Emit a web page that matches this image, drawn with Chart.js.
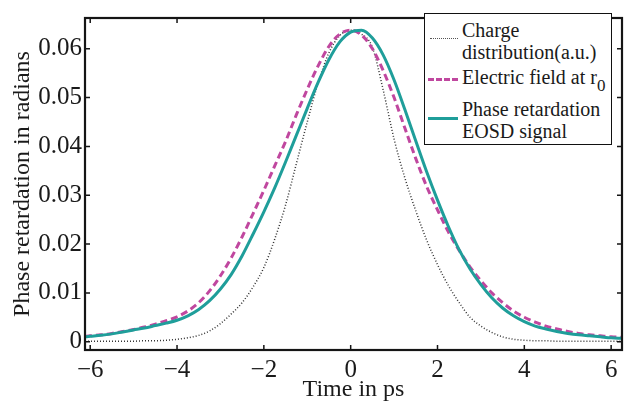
<!DOCTYPE html>
<html><head><meta charset="utf-8">
<script src="https://cdn.jsdelivr.net/npm/chart.js@4.4.0/dist/chart.umd.min.js"></script>
<style>
html,body{margin:0;padding:0;background:#fff;}
#wrap{position:relative;width:627px;height:401px;}
#legend{position:absolute;left:424px;top:13px;width:188px;height:132px;border:1px solid #111;background:#fff;font-family:"Liberation Serif","Times New Roman",serif;font-size:20px;color:#1a1a1a;box-sizing:border-box;}
.item{position:absolute;left:37px;line-height:22px;white-space:nowrap;}
.sample{position:absolute;height:0;}
sub{font-size:17px;vertical-align:-7px;line-height:0;}
</style></head>
<body><div id="wrap"><canvas id="c" width="627" height="401"></canvas>
<div id="legend">
 <div class="sample" style="left:5px;width:28px;top:24px;border-top:1.5px dotted #555;"></div>
 <div class="item" style="top:5px;">Charge<br>distribution(a.u.)</div>
 <div class="sample" style="left:3px;width:30px;top:64px;border-top:3px dashed #c0479f;"></div>
 <div class="item" style="top:52px;">Electric field at r<sub>0</sub></div>
 <div class="sample" style="left:3px;width:30px;top:103px;border-top:3px solid #1f9e9a;"></div>
 <div class="item" style="top:84px;">Phase retardation<br>EOSD signal</div>
</div></div>
<script>
const times = [-6.12,-6,-5.75,-5.5,-5.25,-5,-4.75,-4.5,-4.25,-4,-3.75,-3.5,-3.25,-3,-2.75,-2.5,-2.25,-2,-1.75,-1.5,-1.25,-1,-0.75,-0.5,-0.25,0,0.25,0.5,0.75,1,1.25,1.5,1.75,2,2.25,2.5,2.75,3,3.25,3.5,3.75,4,4.25,4.5,4.75,5,5.25,5.5,5.75,6,6.25];
const chargeDist = [0.0001,0.0001,0.0001,0.0001,0.0001,0.0001,0.0002,0.0002,0.0003,0.0005,0.0008,0.0013,0.0022,0.0037,0.0057,0.0080,0.0112,0.0152,0.0210,0.0280,0.0365,0.0450,0.0530,0.0592,0.0627,0.0638,0.0630,0.0603,0.0515,0.0415,0.0335,0.0268,0.0208,0.0158,0.0115,0.0080,0.0050,0.0032,0.0019,0.0010,0.0005,0.0003,0.0002,0.0002,0.0001,0.0001,0.0001,0.0001,0.0001,0.0001,0.0001];
const electricField = [0.0011,0.0012,0.0014,0.0017,0.0021,0.0025,0.0030,0.0036,0.0043,0.0051,0.0063,0.0080,0.0104,0.0135,0.0172,0.0215,0.0262,0.0310,0.0360,0.0410,0.0465,0.0517,0.0565,0.0605,0.0630,0.0638,0.0628,0.0600,0.0555,0.0500,0.0437,0.0375,0.0318,0.0270,0.0225,0.0187,0.0153,0.0125,0.0100,0.0080,0.0063,0.0050,0.0040,0.0032,0.0026,0.0021,0.0017,0.0014,0.0012,0.0010,0.0009];
const phaseRetard = [0.0010,0.0011,0.0013,0.0016,0.0020,0.0024,0.0028,0.0033,0.0038,0.0044,0.0053,0.0066,0.0084,0.0108,0.0138,0.0176,0.0220,0.0266,0.0315,0.0368,0.0423,0.0478,0.0531,0.0578,0.0614,0.0634,0.0638,0.0622,0.0587,0.0536,0.0475,0.0411,0.0348,0.0290,0.0236,0.0188,0.0149,0.0117,0.0090,0.0069,0.0053,0.0041,0.0032,0.0026,0.0021,0.0017,0.0014,0.0012,0.0010,0.0008,0.0007];
const xTicks = [-6,-4,-2,0,2,4,6];
const xTickLabels = ['\u22126','\u22124','\u22122','0','2','4','6'];
const yTicks = [0,0.01,0.02,0.03,0.04,0.05,0.06];
const yTickLabels = ['0','0.01','0.02','0.03','0.04','0.05','0.06'];

const pts = arr => times.map((t,i)=>({x:t,y:arr[i]}));
const FONT = '"Liberation Serif","Times New Roman",serif';

const frame = {
  id:'frame',
  afterDraw(chart){
    const {ctx, chartArea:a, scales:{x,y}} = chart;
    ctx.save();
    ctx.strokeStyle='#151515';
    ctx.lineWidth=1.5;
    ctx.beginPath();
    xTicks.forEach(v=>{const p=x.getPixelForValue(v);
      ctx.moveTo(p,a.bottom);ctx.lineTo(p,a.bottom-5);
      ctx.moveTo(p,a.top);ctx.lineTo(p,a.top+5);});
    yTicks.forEach(v=>{const p=y.getPixelForValue(v);
      ctx.moveTo(a.left,p);ctx.lineTo(a.left+5,p);
      ctx.moveTo(a.right,p);ctx.lineTo(a.right-5,p);});
    ctx.stroke();
    ctx.lineWidth=2.2;
    ctx.strokeRect(a.left,a.top,a.right-a.left,a.bottom-a.top);
    ctx.restore();
  }
};

new Chart(document.getElementById('c'),{
  type:'line',
  data:{datasets:[
    {label:'Phase retardation EOSD signal',data:pts(phaseRetard),borderColor:'#1f9e9a',borderWidth:3,pointRadius:0,cubicInterpolationMode:'monotone',order:1},
    {label:'Electric field at r0',data:pts(electricField),borderColor:'#c0479f',borderWidth:3,borderDash:[7,4],pointRadius:0,cubicInterpolationMode:'monotone',order:2},
    {label:'Charge distribution(a.u.)',data:pts(chargeDist),borderColor:'#333',borderWidth:1.5,borderDash:[1,2],pointRadius:0,cubicInterpolationMode:'monotone',order:3}
  ]},
  options:{
    responsive:false,animation:false,
    layout:{padding:{left:0,top:10,right:5,bottom:0}},
    plugins:{legend:{display:false},tooltip:{enabled:false}},
    scales:{
      x:{type:'linear',min:-6.12,max:6.25,
        afterBuildTicks:s=>{s.ticks=xTicks.map(v=>({value:v}));},
        afterFit:s=>{s.height=51;},
        grid:{display:false,drawTicks:false},border:{display:false},
        ticks:{padding:5,color:'#1a1a1a',font:{family:FONT,size:25},maxRotation:0,callback:(v,i)=>xTickLabels[i]},
        title:{display:true,text:'Time in ps',color:'#1a1a1a',font:{family:FONT,size:24,lineHeight:0.9},padding:{top:0,bottom:0}}},
      y:{type:'linear',min:-0.0017,max:0.0663,
        afterBuildTicks:s=>{s.ticks=yTicks.map(v=>({value:v}));},
        afterFit:s=>{s.width=85;},
        grid:{display:false,drawTicks:false},border:{display:false},
        ticks:{padding:3,color:'#1a1a1a',font:{family:FONT,size:25},callback:(v,i)=>yTickLabels[i]},
        title:{display:true,text:'Phase retardation in radians',color:'#1a1a1a',font:{family:FONT,size:24,lineHeight:1.2},padding:{top:8,bottom:0}}}
    }
  },
  plugins:[frame]
});
</script></body></html>
